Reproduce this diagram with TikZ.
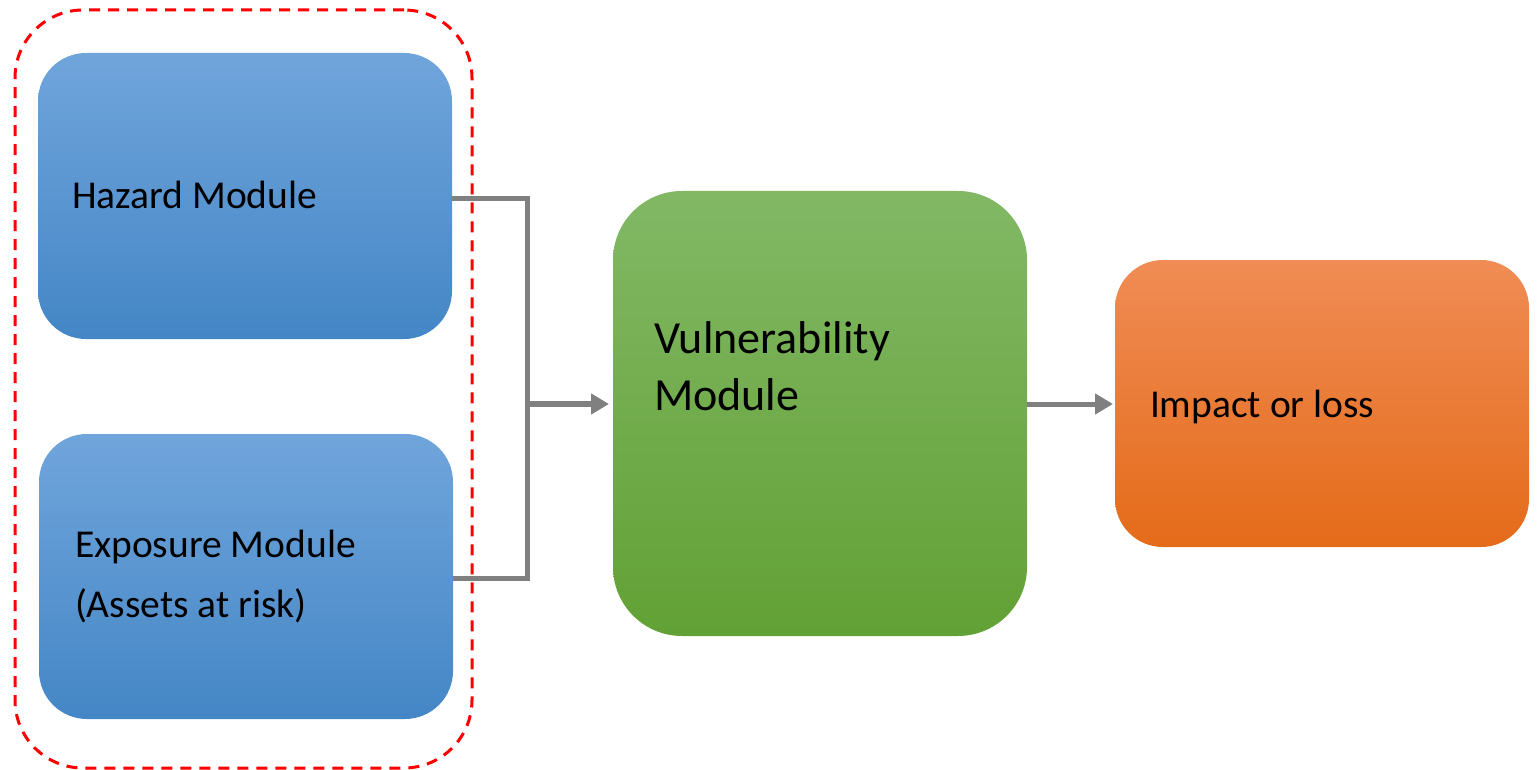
\documentclass[tikz,border=0pt]{standalone}
\usepackage{fontspec}
\setmainfont{Carlito}
\usetikzlibrary{arrows.meta}
\definecolor{bluetop}{HTML}{70A5DB}
\definecolor{bluemid}{HTML}{5599DA}
\definecolor{bluebot}{HTML}{4486C6}
\definecolor{greentop}{HTML}{82B865}
\definecolor{greenmid}{HTML}{71B143}
\definecolor{greenbot}{HTML}{62A135}
\definecolor{orangetop}{HTML}{F08C55}
\definecolor{orangemid}{HTML}{F47B28}
\definecolor{orangebot}{HTML}{E46B19}
\definecolor{conngray}{HTML}{808080}
\tikzset{
  modbox/.style={rectangle, inner sep=0pt, outer sep=0pt, draw=none, minimum width=414pt},
  bluebox/.style={modbox, minimum height=286pt, rounded corners=48pt, top color=bluetop, middle color=bluemid, bottom color=bluebot},
  greenbox/.style={modbox, minimum height=445pt, rounded corners=69pt, top color=greentop, middle color=greenmid, bottom color=greenbot},
  orangebox/.style={modbox, minimum height=287pt, rounded corners=48pt, top color=orangetop, middle color=orangemid, bottom color=orangebot},
  grouplbl/.style={rectangle, inner sep=0pt, outer sep=0pt, draw=red, line width=3pt, dash pattern=on 11pt off 8pt, rounded corners=68pt, minimum width=457pt, minimum height=758pt},
  lbl/.style={inner sep=0pt, outer sep=0pt, anchor=base west, text=black, font=\fontsize{39.5}{60}\selectfont},
  biglbl/.style={inner sep=0pt, outer sep=0pt, anchor=base west, text=black, align=left, font=\fontsize{46}{57}\selectfont},
  conn/.style={draw=conngray, line width=5pt, line join=miter},
  arr/.style={conn, line width=6pt, -{Triangle[length=18pt,width=20pt]}}
}
\begin{document}
\begin{tikzpicture}[x=1pt,y=-1pt]
\useasboundingbox (0,0) rectangle (1539,770);
\fill[white] (0,0) rectangle (1539,770);
% boxes
\node[bluebox] (hazard) at (245,196) {};
\node[bluebox, minimum height=285pt] (exposure) at (246,576.5) {};
\node[greenbox] (vuln) at (820,413.5) {};
\node[orangebox] (impact) at (1322,403.5) {};
\node[grouplbl] (group) at (243.5,389) {};
% labels
\node[lbl] (thazard) at (72,208) {Hazard Module};
\node[lbl, align=left] (texposure) at (75,617) {Exposure Module\\(Assets at risk)};
\node[biglbl] (tvuln) at (654,410) {Vulnerability\\Module};
\node[lbl] (timpact) at (1150,417) {Impact or loss};
% connectors
\coordinate (j) at (527,404);
\draw[conn] ([yshift=-3pt]hazard.east) -| (j);
\draw[conn] ([yshift=-1.5pt]exposure.east) -| (j);
\draw[arr, shorten >=4pt] (j) -- (vuln.west |- j);
\draw[arr, line width=5pt, shorten >=2pt] (vuln.east |- j) -- (impact.west |- j);
\end{tikzpicture}
\end{document}
